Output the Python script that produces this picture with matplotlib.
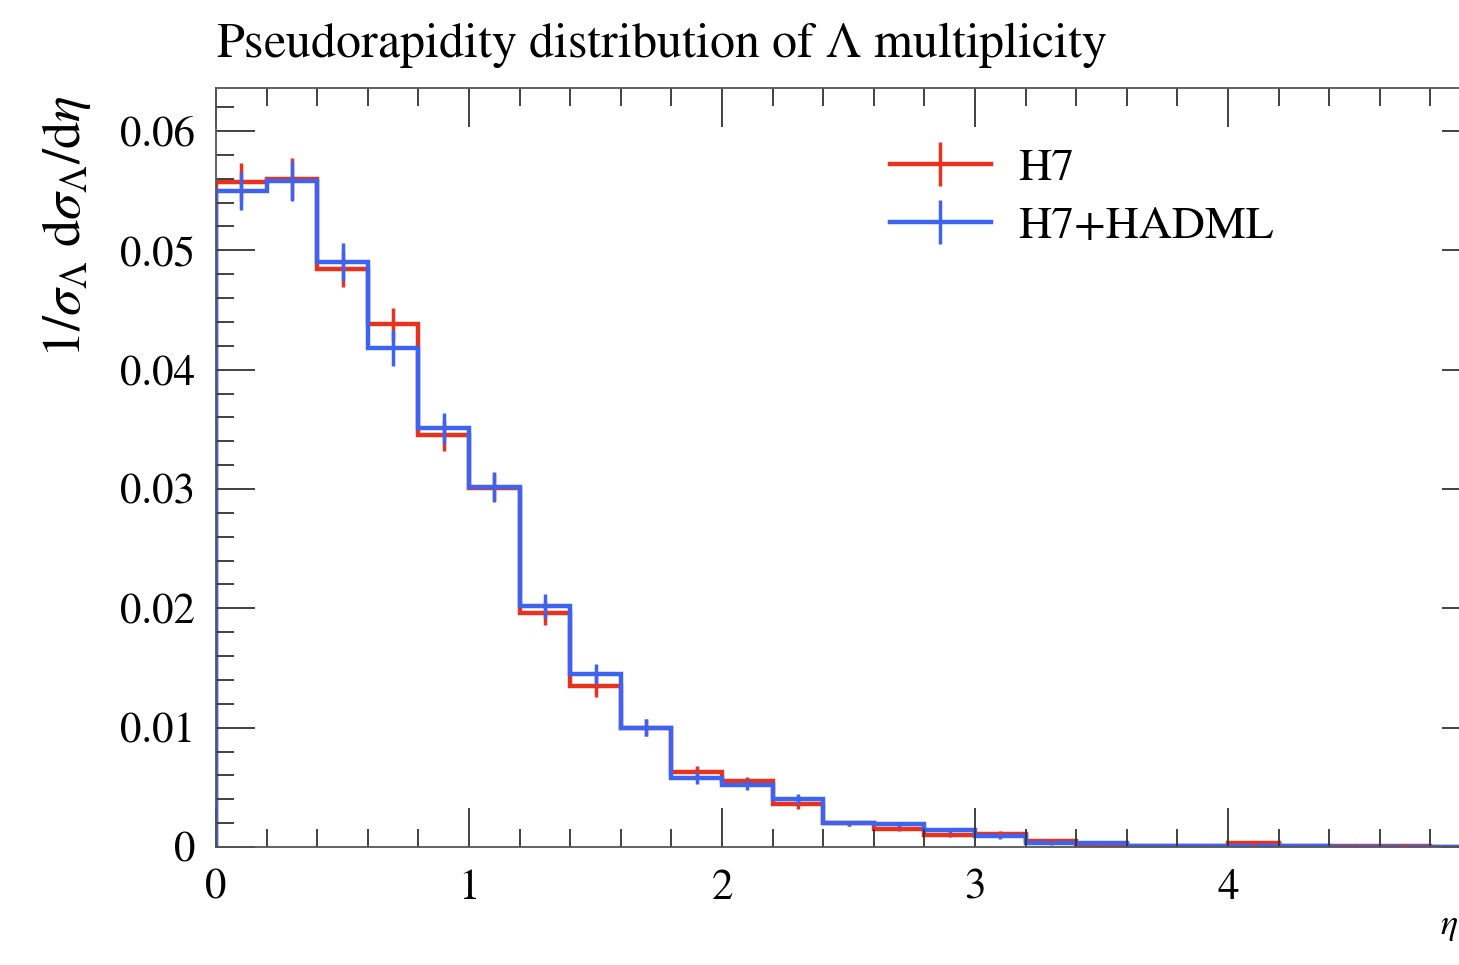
import numpy as np
import matplotlib
matplotlib.use("Agg")
import matplotlib.pyplot as plt
from matplotlib.lines import Line2D

# bin edges in eta (0.2 wide)
edges = np.round(np.arange(0, 5.01, 0.2), 2)

h7 = [0.0557, 0.0560, 0.0484, 0.0438, 0.0345, 0.0301, 0.0196, 0.0135, 0.0100, 0.0063,
      0.0055, 0.0036, 0.0020, 0.0015, 0.0010, 0.0011, 0.0005, 0.0002, 0.0001, 0.0001,
      0.0003, 0.0001, 0.0001, 0.0001, 0.0000]
h7_err = [0.0016, 0.0017, 0.0015, 0.0014, 0.0013, 0.0012, 0.0010, 0.0009, 0.0007, 0.0005,
          0.0004, 0.0004, 0.0002, 0.0002, 0.0002, 0.0002, 0.0001, 0.0001, 0.0001, 0.0001,
          0.0001, 0.0001, 0.0001, 0.0001, 0.0000]

hadml = [0.0550, 0.0558, 0.0490, 0.0418, 0.0351, 0.0302, 0.0202, 0.0145, 0.0100, 0.0058,
         0.0052, 0.0040, 0.0020, 0.0019, 0.0014, 0.0009, 0.0003, 0.0003, 0.0001, 0.0001,
         0.0001, 0.0001, 0.0000, 0.0000, 0.0000]
hadml_err = [0.0016, 0.0017, 0.0016, 0.0015, 0.0013, 0.0012, 0.0010, 0.0008, 0.0007, 0.0005,
             0.0004, 0.0004, 0.0002, 0.0002, 0.0002, 0.0002, 0.0001, 0.0001, 0.0001, 0.0001,
             0.0001, 0.0001, 0.0000, 0.0000, 0.0000]

red = "#E8321E"
blue = "#3C64F0"

plt.rcParams["font.family"] = ["STIXGeneral", "DejaVu Serif"]
plt.rcParams["mathtext.fontset"] = "stix"

fig = plt.figure(figsize=(14.59, 9.65), dpi=100)
# axes runs a little past the right edge of the figure, like the cropped original
ax = fig.add_axes([216 / 1459, 118 / 965, 1265 / 1459, 759 / 965])

centers = 0.5 * (edges[:-1] + edges[1:])
for vals, errs, col in [(h7, h7_err, red), (hadml, hadml_err, blue)]:
    ax.stairs(vals, edges, color=col, lw=3.2)
    ax.errorbar(centers, vals, yerr=errs, fmt="none", ecolor=col, elinewidth=2.5, capsize=0)

ax.set_xlim(0, 5)
ax.set_ylim(0, 0.0636)
ax.set_xticks([0, 1, 2, 3, 4])
ax.set_xticklabels(["0", "1", "2", "3", "4"])
ax.set_xticks(np.arange(0, 5.01, 0.2), minor=True)
ax.set_yticks([0, 0.01, 0.02, 0.03, 0.04, 0.05, 0.06])
ax.set_yticklabels(["0", "0.01", "0.02", "0.03", "0.04", "0.05", "0.06"])
ax.set_yticks(np.arange(0, 0.0636, 0.002), minor=True)

ax.tick_params(which="both", direction="in", top=True, right=True, colors="#333333",
               labelcolor="black", labelsize=31, width=1.3)
ax.tick_params(which="major", length=28)
ax.tick_params(which="minor", length=13)
ax.tick_params(axis="y", pad=15)
ax.tick_params(axis="x", pad=16)
for s in ax.spines.values():
    s.set_color("#555555")
    s.set_linewidth(1.3)

ax.set_ylabel(r"$1/\sigma_\Lambda\ \mathrm{d}\sigma_\Lambda/\mathrm{d}\eta$", fontsize=39, loc="top")
ax.yaxis.set_label_coords(-0.097, 0.99)
ax.text(1458 / 1459, 22 / 965, r"$\eta$", transform=fig.transFigure, fontsize=26,
        ha="right", va="bottom")
ax.set_title(r"Pseudorapidity distribution of $\Lambda$ multiplicity", loc="left",
             fontsize=36, pad=22)

handles = [Line2D([], [], color=red, lw=3.2, marker="|", markersize=32, mew=2.5),
           Line2D([], [], color=blue, lw=3.2, marker="|", markersize=32, mew=2.5)]
ax.legend(handles, ["H7", "H7+HADML"], loc="upper left", bbox_to_anchor=(0.5, 0.975),
          frameon=False, fontsize=33, handlelength=2.2, handletextpad=0.6, labelspacing=0.35)

fig.savefig("out.png", dpi=100)
